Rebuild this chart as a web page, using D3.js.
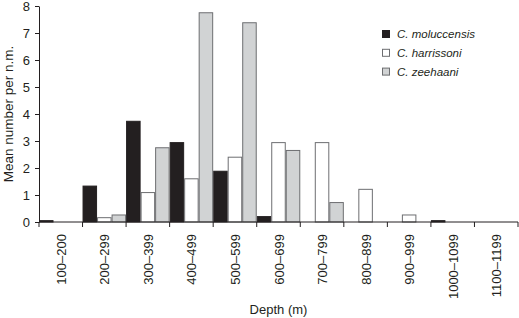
<!DOCTYPE html>
<html>
<head>
<meta charset="utf-8">
<script src="https://cdn.jsdelivr.net/npm/d3@7"></script>
<style>
  body { margin: 0; background: #fff; }
  text { font-family: "Liberation Sans", Arial, sans-serif; }
</style>
</head>
<body>
<div id="container"></div>
<script>
/* DATA */
const depths = ["100\u2013200", "200\u2013299", "300\u2013399", "400\u2013499", "500\u2013599", "600\u2013699",
  "700\u2013799", "800\u2013899", "900\u2013999", "1000\u20131099", "1100\u20131199"]
const species = ["C. moluccensis", "C. harrissoni", "C. zeehaani"]
const moluccensis = [0.05, 1.33, 3.73, 2.94, 1.88, 0.2, 0, 0, 0, 0.05, 0]
const harrissoni = [0, 0.16, 1.09, 1.6, 2.4, 2.94, 2.94, 1.21, 0.26, 0, 0]
const zeehaani = [0, 0.26, 2.75, 7.75, 7.38, 2.65, 0.72, 0, 0, 0, 0]
const yTicks = [0, 1, 2, 3, 4, 5, 6, 7, 8]

/* CONSTANTS */
const width = 519,
  height = 318,
  margin = { top: 6, bottom: 96, left: 39, right: 1 }

const fills = ["#231f20", "#ffffff", "#d1d3d4"]
const strokes = ["#231f20", "#6d6e71", "#6d6e71"]

const series = [moluccensis, harrissoni, zeehaani]
const rows = []
series.forEach((vals, si) => vals.forEach((v, i) => rows.push({ s: si, depth: depths[i], value: v })))

const svg = d3.select("#container")
  .append("svg")
  .attr("width", width)
  .attr("height", height)

const xScale = d3.scaleBand()
  .domain(depths)
  .range([margin.left, width - margin.right])

const subScale = d3.scaleBand()
  .domain([0, 1, 2])
  .range([0, xScale.bandwidth()])

const yScale = d3.scaleLinear()
  .domain([0, 8])
  .range([height - margin.bottom, margin.top])

// bars
svg.selectAll("rect.bar")
  .data(rows.filter(d => d.value > 0))
  .join("rect")
  .attr("class", "bar")
  .attr("x", d => xScale(d.depth) + subScale(d.s) + 0.5)
  .attr("y", d => yScale(d.value))
  .attr("width", subScale.bandwidth() - 1)
  .attr("height", d => yScale(0) - yScale(d.value))
  .attr("fill", d => fills[d.s])
  .attr("stroke", d => strokes[d.s])
  .attr("stroke-width", 1)

// x axis: ticks at category boundaries
const xAxisG = svg.append("g")
  .attr("transform", `translate(0, ${height - margin.bottom})`)
xAxisG.append("line")
  .attr("x1", margin.left).attr("x2", width - margin.right)
  .attr("stroke", "#231f20")
xAxisG.selectAll("line.tick")
  .data(depths)
  .join("line")
  .attr("class", "tick")
  .attr("x1", d => xScale(d) + xScale.bandwidth())
  .attr("x2", d => xScale(d) + xScale.bandwidth())
  .attr("y1", 0).attr("y2", 5)
  .attr("stroke", "#231f20")
xAxisG.append("line")
  .attr("x1", margin.left).attr("x2", margin.left)
  .attr("y1", 0).attr("y2", 5)
  .attr("stroke", "#231f20")
xAxisG.selectAll("text")
  .data(depths)
  .join("text")
  .attr("transform", d => `translate(${xScale(d) + xScale.bandwidth() / 2 + 5}, 12) rotate(-90)`)
  .attr("text-anchor", "end")
  .attr("font-size", "13px")
  .attr("fill", "#231f20")
  .text(d => d)

// y axis
const yAxis = d3.axisLeft(yScale)
  .tickValues(yTicks)
  .tickSize(4)
  .tickPadding(5)
  .tickSizeOuter(0)
const yAxisG = svg.append("g")
  .attr("transform", `translate(${margin.left}, 0)`)
  .call(yAxis)
yAxisG.selectAll("text").attr("font-size", "13px").attr("fill", "#231f20").attr("font-family", "Liberation Sans, Arial, sans-serif")
yAxisG.selectAll("line, path").attr("stroke", "#231f20")

// axis labels
svg.append("text")
  .attr("transform", `translate(${(margin.left + width - margin.right) / 2}, 314)`)
  .attr("text-anchor", "middle")
  .attr("font-size", "13px")
  .attr("fill", "#231f20")
  .text("Depth (m)")

svg.append("text")
  .attr("transform", `translate(13, ${(yScale(0) + yScale(8)) / 2}) rotate(-90)`)
  .attr("text-anchor", "middle")
  .attr("font-size", "13.5px")
  .attr("fill", "#231f20")
  .text("Mean number per n.m.")

// legend
const legend = svg.append("g")
  .attr("transform", "translate(382, 30)")
const items = legend.selectAll("g")
  .data(species)
  .join("g")
  .attr("transform", (d, i) => `translate(0, ${i * 18.8})`)
items.append("rect")
  .attr("x", 0.5).attr("y", 0.5)
  .attr("width", 7).attr("height", 7)
  .attr("fill", (d, i) => fills[i])
  .attr("stroke", (d, i) => strokes[i])
items.append("text")
  .attr("x", 15).attr("y", 8)
  .attr("font-size", "11.5px")
  .attr("font-style", "italic")
  .attr("fill", "#231f20")
  .text(d => d)
</script>
</body>
</html>
